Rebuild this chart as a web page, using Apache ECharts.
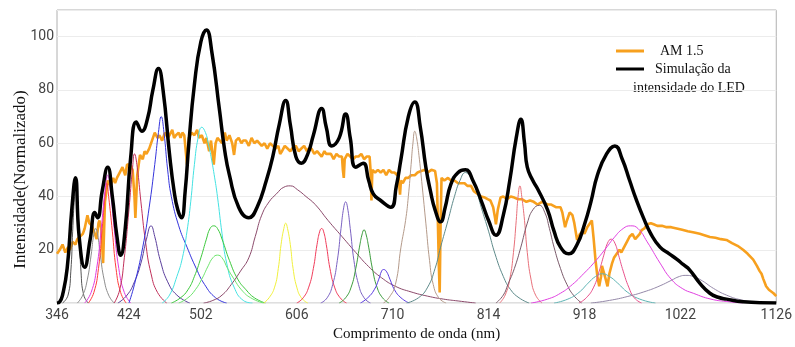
<!DOCTYPE html>
<html>
<head>
<meta charset="utf-8">
<script src="https://cdn.jsdelivr.net/npm/echarts@6/dist/echarts.min.js"></script>
<style>
    html, body { margin: 0; padding: 0; background: #fff; }
    #chart { width: 795px; height: 347px; }
</style>
</head>
<body>
<div id="chart"></div>
<script>
    // eixo x: comprimento de onda (nm)
    var xTicks = [346, 424, 502, 606, 710, 814, 918, 1022, 1126];
    var yTicks = [20, 40, 60, 80, 100];

    // espectro solar AM 1.5 (normalizado)
    var am15 = [
        [346,18.5],[349,20],[352,22],[355,19],[358,21],[360,20],[363,23],[366,22],[368,24],[371,25],
        [374,26],[376,28],[379,33],[381,30],[384,29],[386,27],[389,24],[391,30],[392,31],[394,28],
        [396,15],[398,38],[401,46],[404,44],[407,47],[409,45],[411,47],[414,49],[417,51],[420,48],
        [422,52],[425,52],[428,50],[430,40],[431,32],[433,48],[436,55.6],[439,54],[441,57],[443,56],
        [446,58],[449,61],[452,64],[455,62],[457,63],[460,61],[463,64],[466,62],[468,63],[471,65],
        [473,62],[475,63],[478,64],[480,62],[482,64],[484,63],[486,63],[487,52],[489,62],[492,64],
        [495,63],[498,65],[500,62],[503,63],[506,60],[508,62],[511,57],[513,61],[516,52],[518,60],
        [520,62],[522,62],[525,60],[528,64],[530,61],[533,63],[536,60],[538,55.6],[540,61],[543,62],
        [546,60],[548,61],[551,61],[554,59],[557,62],[560,60],[563,61],[565,61],[568,59],[571,60],
        [574,58],[577,60],[580,59],[583,58],[586,59],[588,56],[590,57],[593,59],[596,58],[599,57],
        [601,58],[605,59],[608,57],[611,58],[614,59],[617,57],[619,58],[622,58],[625,56],[628,57],
        [630,57],[633,55],[636,57],[638,56],[640,55.6],[643,56],[646,54],[649,56],[652,55],[655,55],
        [656,50],[657,47],[658,54],[661,56],[664,55],[667,54],[670,55],[673,55],[676,56],[679,54],
        [682,55],[685,55],[686,50],[687,38.5],[688,50],[691,49],[694,50],[697,49],[700,50],[703,48],
        [706,50],[709,49],[712,49],[715,48],[716,49],[718,40.7],[719,46],[721,45],[724,47],[727,47],
        [730,48],[734,48],[737,49],[741,49.6],[745,50],[748,49],[752,50],[756,49.6],[758,45],[759,31],
        [760,15],[761,4],[762,30],[763,47],[766,46],[770,47],[773,46],[777,46],[781,45],[784,45],
        [788,45],[791,44],[795,44],[798,42],[802,41],[806,40],[810,39.6],[813,39],[816,38.5],[819,36],
        [821,32],[822,29.6],[824,35],[827,39.6],[830,40],[834,39],[838,40],[842,39.6],[846,39],[850,39],
        [855,38],[859,38.5],[863,38],[867,37],[872,38],[878,37],[882,37],[887,36],[892,36],[894,34],
        [897,28.5],[899,31],[902,34],[905,33],[907,30],[910,23.7],[913,25.9],[916,27],[918,26],[921,28.5],
        [924,30],[926,31],[928,24],[930,16],[932,10],[934,6.3],[936,10],[937,14],[939,13.7],[941,9],
        [943,6.3],[945,11],[948,15],[950,17],[953,18.5],[956,20],[958,19],[961,21],[964,23],[967,25],
        [970,26],[973,24],[975,24],[978,26],[980,27.4],[983,28],[986,29.6],[990,30],[993,29.6],[997,29],
        [1002,29],[1007,28.5],[1012,28.5],[1018,28],[1024,27.5],[1030,27],[1037,26.5],[1043,26],[1048,25.5],
        [1054,24.8],[1060,24.5],[1066,24],[1072,23.7],[1078,22.5],[1084,21.5],[1090,20],[1095,18.5],
        [1101,16.3],[1105,14],[1108,12],[1110,11],[1112,9],[1115,6.3],[1118,5],[1120,4.5],[1123,3.7],[1126,2.6]
    ];

    // simulação da intensidade do LED (soma)
    var ledSim = [
        [346,0],[349,0.5],[352,3],[357,13],[362,35],[366,47],[370,25],[376,13.5],[382,24],[387,34],
        [390,32],[395,42],[401,51],[406,40],[411,25],[415,18],[420,28],[426,55],[432,68],[438,64.5],
        [444,69],[450,80],[456,88],[461,80],[468,56],[473,42],[477,35],[481,32],[485,42],[489,60],
        [495,82],[502,98],[508,102.5],[514,94],[522,73],[528,57],[533,48],[543,36],[554,32],[563,36],
        [573,46],[580,55],[587,67],[594,76],[599,67],[605,55],[611,52.5],[618,56],[624,63],[633,73],
        [638,66],[644,59],[652,62],[659,71],[664,62],[670,51],[678,52.5],[684,46],[689,41],[697,38.5],
        [708,36],[714,44],[719,54],[727,70],[734,75.5],[740,66],[746,51],[751,42],[756,35],[762,30.5],
        [767,36],[773,44.5],[781,49],[789,50],[797,46],[806,38.5],[814,31],[822,25.5],[830,33],[837,46],
        [844,62],[849,69],[853,60],[856,51],[862,46],[867,43],[878,35],[885,27],[892,21],[901,18.5],
        [910,22],[918,29.5],[925,38],[932,48],[942,56],[951,59],[959,54],[967,46],[974,39],[982,32],
        [990,26],[1000,21],[1010,18.5],[1018,16.5],[1025,14.5],[1032,12.5],[1043,7.5],[1054,3.7],
        [1063,2.2],[1072,1.5],[1090,0.5],[1126,0]
    ];

    // LEDs individuais
    var led366 = [[352,0],[358,3],[361,12],[363,27],[365,40],[366.5,45],[368,40],[370,27],[372,12],[375,3],[380,0]];
    var led388 = [[368,0],[374,3],[379,9],[383,18],[386,26],[388,28],[390,26],[393,18],[397,9],[402,3],[408,0]];
    var led401 = [[376,0],[383,4],[389,13],[394,28],[398,42],[401,48],[404,42],[408,28],[413,13],[419,4],[426,0]];
    var led400 = [[380,0],[386,4],[391,13],[395,28],[398,40],[400,45],[402,40],[406,27],[410,13],[415,4],[421,0]];
    var led430 = [[408,0],[414,5],[419,17],[424,35],[428,51],[430,56],[433,51],[437,38],[442,23],[448,11],[455,4],[465,0]];
    var led448 = [[412,0],[422,3],[430,8],[437,15],[443,24],[448,29],[452,25],[458,16],[466,8],[476,3],[490,0]];
    var led459 = [[424,0],[430,7],[439,21],[446,36],[452,52],[456,64],[459,70],[462,64],[466,50],[470,40],[478,29],[487,21],[497,13],[506,7],[518,2],[530,0]];
    var led503 = [[460,0],[468,3],[476,10],[482,17],[487,27],[491,38],[495,52],[499,62],[503,66],[507,64],[510,60],[513,55],[517,47],[520,40],[525,26],[530,15],[538,6],[548,1],[558,0]];
    var led516 = [[470,0],[480,2],[488,5],[495,10],[502,17],[508,24],[512,28],[516,29],[520,28],[525,24],[533,16],[542,9],[551,5],[560,2],[572,0]];
    var led520 = [[478,0],[488,2],[496,5],[503,9],[510,14],[515,17],[520,18],[525,17],[531,13],[538,9],[546,5],[556,2],[570,0]];
    var led599 = [[505,0],[515,1],[525,3],[535,7],[545,12],[554,17],[561,25],[568,33],[576,38],[584,41],[592,43.5],[599,44],[607,42.5],[616,40],[626,37],[640,31],[655,25],[670,19],[684,13.7],[698,9.5],[713,6.3],[730,4.2],[748,2.6],[765,1.5],[781,0.8],[800,0]];
    var led594 = [[570,0],[576,2],[582,6],[586,13],[589,22],[592,28],[594,30],[596,28],[599,22],[602,13],[606,6],[611,2],[618,0]];
    var led633 = [[606,0],[613,2],[619,6],[624,13],[628,22],[631,27],[633,28],[635,27],[638,22],[642,13],[647,6],[653,2],[660,0]];
    var led659 = [[632,0],[639,2],[645,7],[650,16],[654,28],[657,36],[659,38],[661,36],[664,28],[668,16],[673,7],[679,2],[686,0]];
    var led679 = [[652,0],[659,2],[665,6],[670,13],[674,21],[677,26],[679,27.5],[681,26],[684,21],[688,13],[693,6],[699,2],[706,0]];
    var led700 = [[675,0],[683,2],[690,5],[695,9],[698,12],[700,12.6],[703,12],[707,9],[712,5],[719,2],[728,0]];
    var led734 = [[700,0],[706,2],[713,7],[719,21],[724,31],[727,40],[730,52],[732,60],[734,64.5],[736,62],[739,54],[742,44],[746,30],[750,16],[754,7],[760,2],[768,0]];
    var led789 = [[725,0],[738,2],[748,6],[756,13],[762,21],[770,31],[777,40],[783,46],[789,49],[795,47],[801,42],[806,36],[814,27],[821,18.5],[830,10],[838,5],[847,2],[858,0]];
    var led848 = [[826,0],[832,3],[837,9],[841,19],[844,31],[846,40],[848,44],[850,40],[853,31],[856,19],[860,9],[865,3],[872,0]];
    var led869 = [[822,0],[830,3],[835,7],[842,13],[849,21],[856,30],[862,35],[869,36.7],[875,34],[880,28],[885,21],[892,13],[899,7],[906,3],[915,0]];
    var led937 = [[885,0],[900,1.5],[912,4],[922,7.5],[930,10],[937,11],[945,10],[954,7.5],[965,4],[978,1.5],[995,0]];
    var led947 = [[912,0],[920,2],[928,6],[934,12],[939,18],[943,22.5],[947,24],[951,22.5],[955,18],[960,12],[966,6],[972,2],[980,0]];
    var led968 = [[860,0],[878,1.5],[892,3.7],[905,7],[917,11],[928,15],[940,20],[950,24.5],[960,28],[968,29],[976,28],[986,23],[1000,15],[1012,9],[1024,5.5],[1036,3.7],[1055,1.5],[1075,0.5],[1090,0]];
    var led1028 = [[925,0],[945,1],[965,2.5],[985,4.5],[1000,6.5],[1012,8.5],[1021,10],[1028,10.4],[1036,10],[1046,8.3],[1058,5.5],[1072,3],[1088,1.2],[1105,0.3],[1120,0]];

    var componentes = [
        [led366, '#555555'], [led388, '#8c8c8c'], [led400, '#ff3b3b'], [led401, '#e03ce0'],
        [led430, '#c0305a'], [led448, '#5b3f9c'], [led459, '#3434dc'], [led503, '#44e2e2'],
        [led516, '#3cc83c'], [led520, '#6ee46e'], [led599, '#8b4a6b'], [led594, '#f0f03c'],
        [led633, '#f03c5a'], [led659, '#7b62c2'], [led679, '#3c9c3c'], [led700, '#5a3ce0'],
        [led734, '#b49a8a'], [led789, '#5e8a8a'], [led848, '#e8707a'], [led869, '#7a5a6a'],
        [led937, '#5fb4b4'], [led947, '#e8508a'], [led968, '#e040e0'], [led1028, '#9488a8']
    ];

    var chart = echarts.init(document.getElementById('chart'));

    var series = [{
        name: 'AM 1.5',
        type: 'line',
        data: am15,
        showSymbol: false,
        lineStyle: { color: '#f7a01e', width: 2.6 },
        itemStyle: { color: '#f7a01e' },
        z: 2
    }];
    for (var i = 0; i < componentes.length; i++) {
        series.push({
            type: 'line',
            data: componentes[i][0],
            showSymbol: false,
            smooth: true,
            silent: true,
            lineStyle: { color: componentes[i][1], width: 1 },
            z: 3
        });
    }
    series.push({
        name: 'Simulação da intensidade do LED',
        type: 'line',
        data: ledSim,
        showSymbol: false,
        smooth: true,
        lineStyle: { color: '#000', width: 3.5 },
        itemStyle: { color: '#000' },
        z: 4
    });

    var serif = '"Liberation Serif", "Times New Roman", serif';

    var option = {
        backgroundColor: '#fff',
        animation: false,
        grid: {
            left: 57, right: 15, top: 10, bottom: 40,
            show: true, borderColor: '#b0b0b0', borderWidth: 1,
            containLabel: false
        },
        legend: {
            data: [
                { name: 'AM 1.5', textStyle: { padding: [0, 0, 0, 11] } },
                { name: 'Simulação da intensidade do LED', textStyle: { padding: [0, 0, 0, 6] } }
            ],
            orient: 'vertical',
            left: 611,
            top: 38,
            icon: 'rect',
            itemWidth: 28,
            itemHeight: 3,
            itemGap: 2,
            formatter: function (name) {
                return name === 'AM 1.5' ? 'AM 1.5' : 'Simulação da';
            },
            textStyle: { fontFamily: serif, fontSize: 14, color: '#111', lineHeight: 16 }
        },
        graphic: [{
            type: 'text',
            left: 633,
            top: 81,
            style: { text: 'intensidade do LED', font: '14px ' + serif, fill: '#111' }
        }],
        xAxis: {
            type: 'value',
            min: 346,
            max: 1126,
            name: 'Comprimento de onda (nm)',
            nameLocation: 'middle',
            nameGap: 19,
            nameTextStyle: { fontFamily: serif, fontSize: 15, color: '#111' },
            axisLine: { show: false },
            axisTick: { show: false },
            splitLine: { show: false },
            axisLabel: {
                customValues: xTicks,
                margin: 5,
                color: '#444',
                fontFamily: 'Roboto',
                fontSize: 14,
                formatter: function (v) { return String(v); }
            }
        },
        yAxis: {
            type: 'value',
            min: 0,
            max: 110,
            interval: 20,
            name: 'Intensidade(Normalizado)',
            nameLocation: 'middle',
            nameGap: 28,
            nameMoveOverlap: false,
            nameTextStyle: { fontFamily: serif, fontSize: 17, color: '#111', padding: [0, 46, 0, 0] },
            axisLine: { show: false },
            axisTick: { show: false },
            splitLine: { lineStyle: { color: '#ececec', width: 1 } },
            axisLabel: {
                margin: 3,
                color: '#444',
                fontFamily: 'Roboto',
                fontSize: 14,
                formatter: function (v) {
                    return yTicks.indexOf(v) >= 0 ? String(v) : '';
                }
            }
        },
        series: series
    };

    chart.setOption(option);
</script>
</body>
</html>
